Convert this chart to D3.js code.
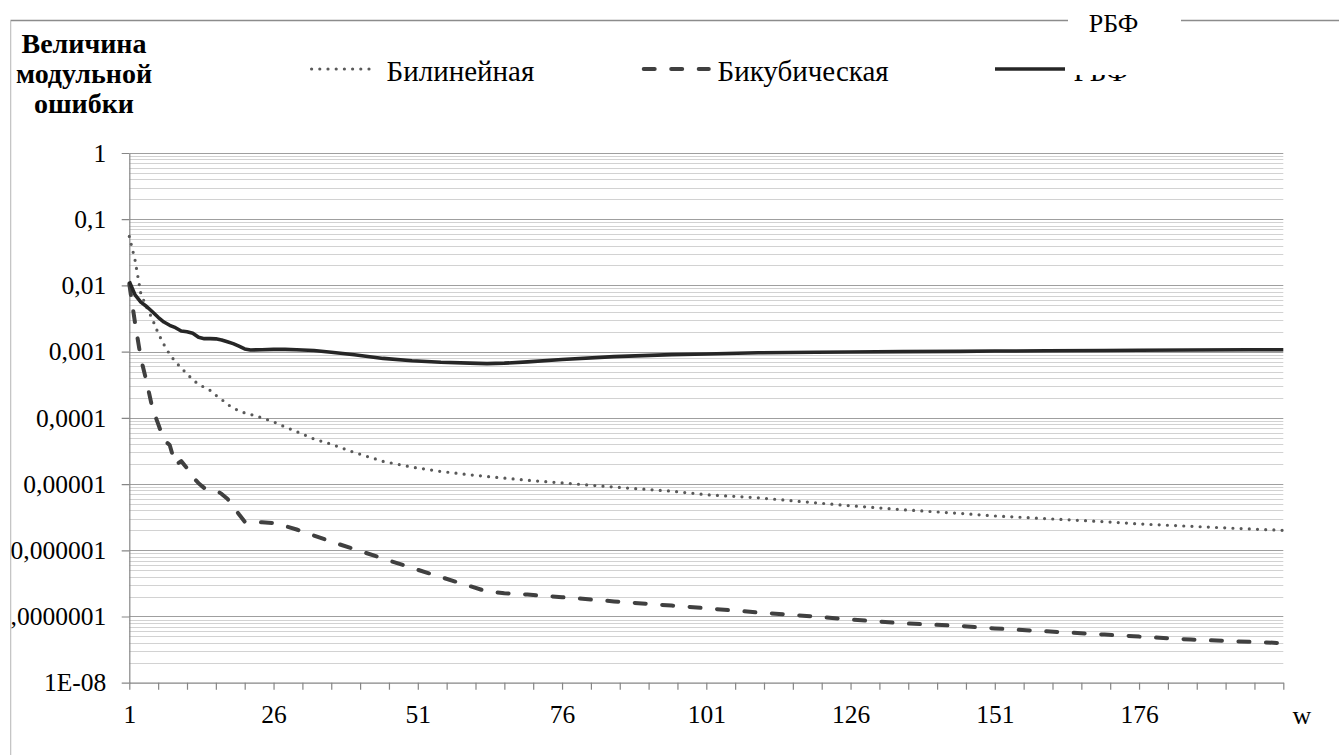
<!DOCTYPE html>
<html lang="ru">
<head>
<meta charset="utf-8">
<script src="https://cdn.jsdelivr.net/npm/d3@7"></script>
<style>
  html, body { margin: 0; padding: 0; background: #fff; }
  svg { display: block; }
</style>
</head>
<body>
<div id="chart"></div>
<script>
const wValues = [
  1, 2, 3, 4, 5, 6, 7, 8, 9, 10, 11, 12, 13, 14, 15, 16, 17, 18, 19, 20, 21, 22,
  24, 26, 28, 30, 33, 36, 40, 45, 50, 55, 60, 63, 66, 70, 76, 85, 95, 101, 110,
  120, 126, 135, 145, 151, 160, 170, 176, 185, 195, 201,
];

const bilinear = [
  0.055, 0.024, 0.0075, 0.0047, 0.0031, 0.0019, 0.00128, 0.00091, 0.0007, 0.00057,
  0.00046, 0.00038, 0.00032, 0.00029, 0.00026, 0.00022, 0.00019, 0.00016, 0.000142,
  0.000127, 0.000119, 0.000113,
  0.0001, 0.000087, 0.000073, 0.000062, 0.000048, 0.00004, 0.00003, 0.000022,
  0.000018, 0.0000155, 0.0000138, 0.000013, 0.0000123, 0.0000114, 0.0000104,
  0.000009, 0.0000078, 0.0000069, 0.0000062, 0.0000052, 0.0000047, 0.0000041,
  0.0000036, 0.0000033, 0.000003, 0.0000027, 0.0000025, 0.0000023, 0.0000021,
  0.000002,
];

const bicubic = [
  0.0105, 0.0027, 0.0008, 0.00035, 0.00014, 0.000081, 0.0000462, 0.0000389,
  0.0000194, 0.0000222, 0.0000174, 0.0000128, 0.0000103, 0.0000087, 0.0000084,
  0.0000081, 0.0000071, 0.000006, 0.00000465, 0.0000035, 0.0000027, 0.0000027,
  0.00000264, 0.00000258, 0.00000232, 0.00000206, 0.00000167, 0.00000135,
  0.00000104, 7.5e-7, 5.4e-7, 3.94e-7, 2.88e-7, 2.38e-7, 2.25e-7, 2.14e-7,
  1.96e-7, 1.69e-7, 1.46e-7, 1.33e-7, 1.15e-7, 9.96e-8, 9.0e-8, 7.9e-8, 7.2e-8,
  6.6e-8, 5.96e-8, 5.33e-8, 4.97e-8, 4.48e-8, 4.15e-8, 3.96e-8,
];

const rbf = [
  0.0115, 0.0072, 0.0056, 0.0048, 0.004, 0.0033, 0.0028, 0.0025, 0.0023, 0.00205,
  0.002, 0.0019, 0.00165, 0.00157, 0.00157, 0.00156, 0.0015, 0.00141, 0.00132,
  0.00121, 0.0011, 0.00106,
  0.00107, 0.00108, 0.00108, 0.00107, 0.00104, 0.00098, 0.0009, 0.00079, 0.00073,
  0.00069, 0.00067, 0.00066, 0.00067, 0.0007, 0.00076, 0.00084, 0.0009, 0.00092,
  0.00096, 0.00098, 0.00099, 0.001, 0.00101, 0.00102, 0.00103, 0.00104, 0.00105,
  0.00106, 0.00107, 0.00107,
];

const seriesNames = ["Билинейная", "Бикубическая", "РБФ"];
const yTickValues = [1e-8, 1e-7, 1e-6, 1e-5, 1e-4, 1e-3, 1e-2, 1e-1, 1];
const yTickLabels = ["1E-08", "0,0000001", "0,000001", "0,00001", "0,0001", "0,001", "0,01", "0,1", "1"];
const xLabelValues = [1, 26, 51, 76, 101, 126, 151, 176];
const axisTitleLines = ["Величина", "модульной", "ошибки"];
const xAxisName = "w";

const width = 1339;
const height = 755;
const plot = { left: 129.3, right: 1283.3, top: 153, bottom: 682.7 };
const serif = '"Liberation Serif", "Times New Roman", serif';

const seriesStyles = [
  { stroke: "#595959", width: 3.2, dash: "0 8.2", cap: "round" },
  { stroke: "#404040", width: 4, dash: "11 16.5", cap: "round" },
  { stroke: "#262626", width: 3.6, dash: null, cap: "butt" },
];

const svg = d3
  .select("#chart")
  .append("svg")
  .attr("width", width)
  .attr("height", height);

const defs = svg.append("defs");
defs.append("clipPath").attr("id", "chartClip")
  .append("rect").attr("x", 10.5).attr("y", 0).attr("width", width).attr("height", height);
// legend label of the third series is cut off at the top in the original
defs.append("clipPath").attr("id", "rbfClip")
  .append("rect").attr("x", 1060).attr("y", 75).attr("width", 120).attr("height", 30);

svg.append("rect").attr("width", width).attr("height", height).attr("fill", "#fff");

const root = svg.append("g").attr("clip-path", "url(#chartClip)");

const xScale = d3.scaleLinear().domain([1, 201]).range([plot.left, plot.right]);
const yScale = d3.scaleLog().domain([1e-8, 1]).range([plot.bottom, plot.top]);

// gridlines: minor (2..9 per decade) first, majors on top
const minorValues = [];
for (let k = -8; k < 0; k++) {
  for (let m = 2; m <= 9; m++) minorValues.push(m * Math.pow(10, k));
}

root.append("g")
  .selectAll("line")
  .data(minorValues)
  .join("line")
  .attr("x1", plot.left).attr("x2", plot.right)
  .attr("y1", (d) => Math.round(yScale(d)) + 0.5)
  .attr("y2", (d) => Math.round(yScale(d)) + 0.5)
  .attr("stroke", "#d2d2d2")
  .attr("stroke-width", 1);

root.append("g")
  .selectAll("line")
  .data(yTickValues.slice(1))
  .join("line")
  .attr("x1", plot.left).attr("x2", plot.right)
  .attr("y1", (d) => Math.round(yScale(d)) + 0.5)
  .attr("y2", (d) => Math.round(yScale(d)) + 0.5)
  .attr("stroke", "#9f9f9f")
  .attr("stroke-width", 1);

// axes
const yAxis = d3.axisLeft(yScale)
  .tickValues(yTickValues)
  .tickFormat((d, i) => yTickLabels[i])
  .tickSizeInner(7.6)
  .tickSizeOuter(0)
  .tickPadding(15.5);

const yAxisG = root.append("g")
  .attr("transform", `translate(${plot.left}, 0)`)
  .call(yAxis);

const xAxis = d3.axisBottom(xScale)
  .tickValues(d3.range(1, 202, 5))
  .tickFormat((d) => (xLabelValues.includes(d) ? d : ""))
  .tickSizeInner(7)
  .tickSizeOuter(0)
  .tickPadding(15);

const xAxisG = root.append("g")
  .attr("transform", `translate(0, ${plot.bottom})`)
  .call(xAxis);

[yAxisG, xAxisG].forEach((g) => {
  g.select(".domain").attr("stroke", "#868686").attr("stroke-width", 1.2);
  g.selectAll(".tick line").attr("stroke", "#868686").attr("stroke-width", 1.2);
  g.selectAll(".tick text").attr("fill", "#000").style("font-size", "25.5px");
});

root.append("text")
  .attr("x", 1302)
  .attr("y", 724)
  .attr("text-anchor", "middle")
  .style("font-size", "26px")
  .text(xAxisName);

// axis title
root.append("text")
  .attr("text-anchor", "middle")
  .style("font-size", "28px")
  .style("font-weight", "bold")
  .selectAll("tspan")
  .data(axisTitleLines)
  .join("tspan")
  .attr("x", 84)
  .attr("y", (d, i) => 53 + i * 30)
  .text((d) => d);

// series
const line = d3.line()
  .x((d) => xScale(d.w))
  .y((d) => yScale(d.v));

const seriesData = [bilinear, bicubic, rbf].map((values) =>
  wValues.map((w, i) => ({ w, v: values[i] }))
);

root.append("g")
  .selectAll("path")
  .data(seriesData)
  .join("path")
  .attr("d", line)
  .attr("fill", "none")
  .attr("stroke", (d, i) => seriesStyles[i].stroke)
  .attr("stroke-width", (d, i) => seriesStyles[i].width)
  .attr("stroke-dasharray", (d, i) => seriesStyles[i].dash)
  .attr("stroke-linecap", (d, i) => seriesStyles[i].cap)
  .attr("stroke-linejoin", "round");

// legend
const legendX = [[310, 377, 386.5], [641.7, 710.8, 717.5], [995, 1065, 1073.5]];
const legend = root.append("g");

legendX.forEach(([x1, x2, tx], i) => {
  const s = seriesStyles[i];
  legend.append("line")
    .attr("x1", x1 + (s.cap === "round" ? s.width / 2 : 0))
    .attr("x2", x2 - (s.cap === "round" ? s.width / 2 : 0))
    .attr("y1", 69).attr("y2", 69)
    .attr("stroke", s.stroke)
    .attr("stroke-width", s.width)
    .attr("stroke-dasharray", s.dash)
    .attr("stroke-linecap", s.cap);

  legend.append("text")
    .attr("x", tx)
    .attr("y", 80.5)
    .attr("clip-path", i === 2 ? "url(#rbfClip)" : null)
    .style("font-size", "29px")
    .text(seriesNames[i]);
});

// chart-area border, interrupted at the top by the stray label
root.append("path")
  .attr("d", "M10.5,755V20.5H1068M1181,20.5H1339")
  .attr("fill", "none")
  .attr("stroke", "#8c8c8c")
  .attr("stroke-width", 1.3);

root.append("text")
  .attr("x", 1113.5)
  .attr("y", 31.5)
  .attr("text-anchor", "middle")
  .style("font-size", "26px")
  .text(seriesNames[2]);

// inline font on every text so nothing falls back to the axis default
svg.selectAll("text").style("font-family", serif).attr("fill", "#000");
</script>
</body>
</html>
